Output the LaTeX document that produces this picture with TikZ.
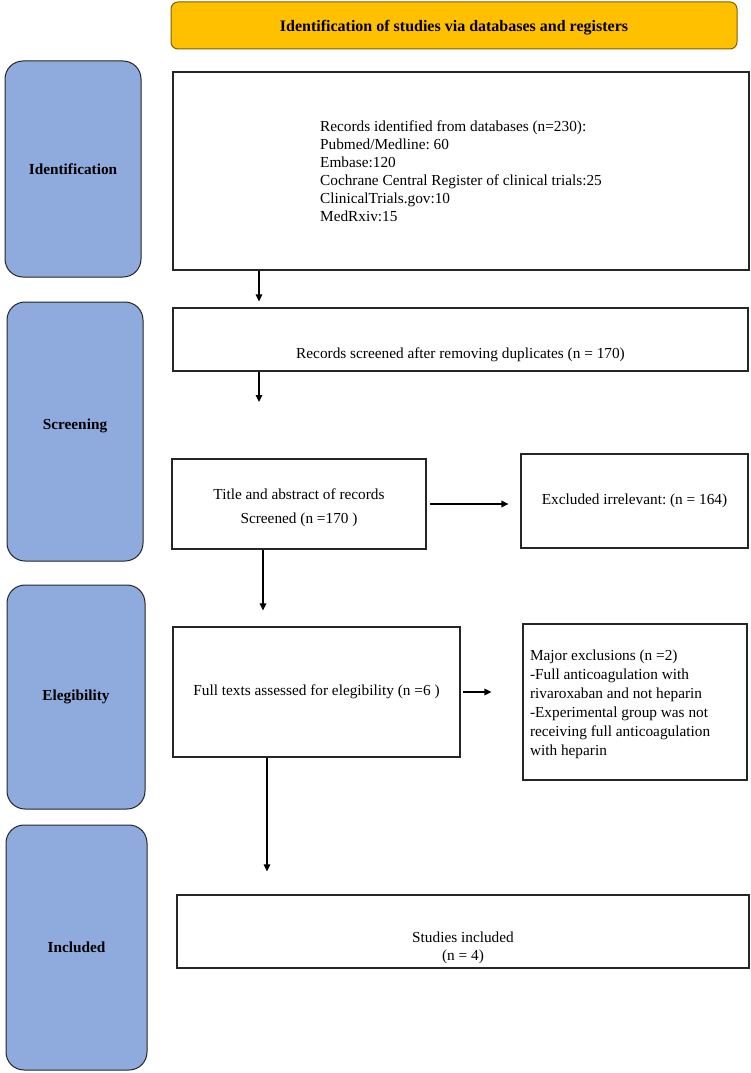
\documentclass[tikz,border=0pt]{standalone}
\usepackage{fontspec}
\setmainfont{Liberation Serif}
\usetikzlibrary{arrows.meta,calc}
\definecolor{phasefill}{HTML}{8FAADC}
\definecolor{phaseline}{HTML}{262626}
\definecolor{bannerfill}{HTML}{FFC000}
\definecolor{bannerline}{HTML}{7F6000}
\newcommand\diagfs{\fontsize{15.3}{18}\selectfont}
\frenchspacing
\begin{document}
\begin{tikzpicture}[x=1pt,y=-1pt,
  phasebox/.style={draw=phaseline, line width=1pt, fill=phasefill, rounded corners=18pt, inner sep=0pt, font=\diagfs\bfseries},
  bannerbox/.style={draw=bannerline, line width=1pt, fill=bannerfill, rounded corners=7pt, inner sep=0pt, font=\fontsize{16}{18}\selectfont\bfseries},
  rectbox/.style={draw=black!85, line width=1.1pt, inner sep=0pt, font=\diagfs},
  txt/.style={inner sep=0pt, font=\diagfs},
  arr/.style={-{Triangle[length=7pt,width=6.5pt]}, line width=1.1pt, black}]
\useasboundingbox (0,0) rectangle (751,1073);
\fill[white] (0,0) rectangle (751,1073);

% banner
\node[bannerbox, minimum width=566pt, minimum height=47pt] (banner) at (454,25.5) {};
\node[txt, font=\fontsize{16}{18}\selectfont\bfseries] (bannertxt) at ([yshift=-2pt]banner.center)
  {Identification of studies via databases and registers};

% phase boxes
\node[phasebox, minimum width=136pt, minimum height=216pt] (ident) at (73,169) {Identification};
\node[phasebox, minimum width=136pt, minimum height=259pt] (screen) at (75,431.5) {};
\node[txt, font=\diagfs\bfseries] (screentxt) at ([yshift=6pt]screen.center) {Screening};
\node[phasebox, minimum width=138pt, minimum height=224pt] (elig) at (76,697) {Elegibility};
\node[phasebox, minimum width=141pt, minimum height=245pt] (incl) at (76.5,947.5) {Included};

% flow boxes
\node[rectbox, minimum width=576pt, minimum height=198pt, align=left] (rec) at (461,171)
  {Records identified from databases (n=230):\\
   Pubmed/Medline: 60\\
   Embase:120\\
   Cochrane Central Register of clinical trials:25\\
   ClinicalTrials.gov:10\\
   MedRxiv:15};
\node[rectbox, minimum width=575pt, minimum height=63pt] (scr) at (460.5,339.5) {};
\node[txt] (scrtxt) at ([yshift=-15.5pt]scr.center) {Records screened after removing duplicates (n = 170)};

\node[rectbox, minimum width=254pt, minimum height=90pt] (title) at (299,504) {};
\node[txt, align=center] (titletxt) at ([yshift=-4pt]title.center)
  {Title and abstract of records\\[6pt]Screened (n =170 )};
\node[rectbox, minimum width=227pt, minimum height=94pt] (excl) at (634.5,501)
  {Excluded irrelevant: (n = 164)};

\node[rectbox, minimum width=287pt, minimum height=130pt] (full) at (316.5,692)
  {Full texts assessed for elegibility (n =6 )};
\node[rectbox, minimum width=224pt, minimum height=156pt] (major) at (635,702) {};
\node[txt, text width=210pt, align=flush left, font=\fontsize{15.3}{19}\selectfont] (majortxt) at ([yshift=-2.5pt]major.center)
  {Major exclusions (n =2)\\
   -Full anticoagulation with\\
   rivaroxaban and not heparin\\
   -Experimental group was not\\
   receiving full anticoagulation\\
   with heparin};

\node[rectbox, minimum width=572pt, minimum height=73pt] (stud) at (463,931.5) {};
\node[txt, align=center] (studtxt) at ([yshift=-16pt]stud.center) {Studies included\\(n = 4)};

% connectors
\coordinate (a1) at (259,0);
\coordinate (end2) at (259,402);
\coordinate (a4) at (263,0);
\coordinate (a6) at (267,0);
\draw[arr, shorten >=6pt] (rec.south -| a1) -- (scr.north -| a1);
\draw[arr] (scr.south -| end2) -- (end2);
\draw[arr, shorten <=3pt, shorten >=12pt] (title.east) -- (excl.west |- title.east);
\draw[arr, shorten >=16pt] (title.south -| a4) -- (full.north -| a4);
\draw[arr, shorten <=2pt, shorten >=31pt] (full.east) -- (major.west |- full.east);
\draw[arr, shorten >=23pt] (full.south -| a6) -- (stud.north -| a6);
\end{tikzpicture}
\end{document}
